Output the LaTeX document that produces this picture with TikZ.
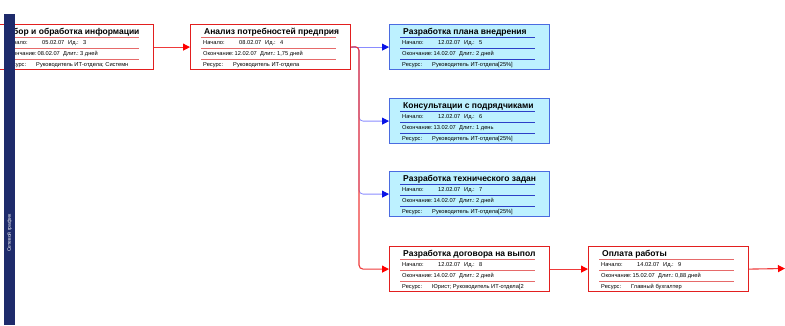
\documentclass[tikz,border=0pt]{standalone}
\usepackage{fontspec}
\setmainfont{Liberation Sans}
\usetikzlibrary{arrows.meta}
\definecolor{netBar}{HTML}{1E2B6B}
\definecolor{taskRed}{HTML}{E21F1F}
\definecolor{sepRed}{HTML}{E66A6A}
\definecolor{taskBlue}{HTML}{4A6BE0}
\definecolor{sepBlue}{HTML}{2C40C8}
\definecolor{taskCyan}{HTML}{BDF1FF}
\definecolor{linkRed}{HTML}{EE3A3A}
\definecolor{tipRed}{HTML}{FF0000}
\definecolor{linkBlue}{HTML}{8A8CFF}
\definecolor{tipBlue}{HTML}{0A14E6}
\tikzset{
  taskbox/.style={rectangle,anchor=north west,minimum width=160pt,minimum height=45pt,
                  inner sep=0pt,line width=1.2pt},
  tasktitle/.style={anchor=base west,inner sep=0pt,font=\fontsize{8.5}{9}\selectfont\bfseries},
  taskrow/.style={anchor=base west,inner sep=0pt,font=\fontsize{5.7}{6}\selectfont},
  tasksep/.style={line width=0.8pt},
  redlink/.style={draw=linkRed,line width=1.1pt,rounded corners=4pt,
                  -{Triangle[length=7pt,width=7pt,color=tipRed]}},
  bluelink/.style={redlink,draw=linkBlue,line width=0.8pt,
                   -{Triangle[length=7pt,width=7pt,color=tipBlue]}},
}

\begin{document}
\begin{tikzpicture}[x=1pt,y=1pt]
  \useasboundingbox (0,0) rectangle (785,-325);

  % task boxes: name/left/top/edge/fill/separators/title/start/id/finish/duration/resource
  \foreach \n/\x/\y/\ec/\fc/\lc/\ttl/\st/\id/\en/\du/\rs in {
    sb/-7/24/taskRed/white/sepRed/{Сбор и обработка информации}/05.02.07/3/08.02.07/{3 дней}/{Руководитель ИТ-отдела; Системн},
    an/190/24/taskRed/white/sepRed/{Анализ потребностей предприя}/08.02.07/4/12.02.07/{1,75 дней}/{Руководитель ИТ-отдела},
    pl/389/24/taskBlue/taskCyan/sepBlue/{Разработка плана внедрения}/12.02.07/5/14.02.07/{2 дней}/{Руководитель ИТ-отдела[25\%]},
    ko/389/98/taskBlue/taskCyan/sepBlue/{Консультации с подрядчиками}/12.02.07/6/13.02.07/{1 день}/{Руководитель ИТ-отдела[25\%]},
    tz/389/171/taskBlue/taskCyan/sepBlue/{Разработка технического задан}/12.02.07/7/14.02.07/{2 дней}/{Руководитель ИТ-отдела[25\%]},
    dg/389/246/taskRed/white/sepRed/{Разработка договора на выпол}/12.02.07/8/14.02.07/{2 дней}/{Юрист; Руководитель ИТ-отдела[2},
    op/588/246/taskRed/white/sepRed/{Оплата работы}/14.02.07/9/15.02.07/{0,88 дней}/{Главный бухгалтер}}{
    \node[taskbox,draw=\ec,fill=\fc] (\n) at (\x,-\y) {};
    \node[tasktitle] (\n-t) at (\x+14,-\y-10.5) {\ttl};
    \draw[tasksep,draw=\lc] (\x+11,-\y-13) -- (\x+146,-\y-13);
    \draw[tasksep,draw=\lc] (\x+11,-\y-24) -- (\x+146,-\y-24);
    \draw[tasksep,draw=\lc] (\x+11,-\y-35) -- (\x+146,-\y-35);
    \node[taskrow] (\n-a) at (\x+13,-\y-20.5) {Начало:};
    \node[taskrow] (\n-b) at (\x+49,-\y-20.5) {\st};
    \node[taskrow] (\n-c) at (\x+75,-\y-20.5) {Ид.:};
    \node[taskrow] (\n-d) at (\x+90,-\y-20.5) {\id};
    \node[taskrow] (\n-e) at (\x+13,-\y-31.5) {Окончание:};
    \node[taskrow] (\n-f) at (\x+44.5,-\y-31.5) {\en};
    \node[taskrow] (\n-g) at (\x+70,-\y-31.5) {Длит.:};
    \node[taskrow] (\n-h) at (\x+87,-\y-31.5) {\du};
    \node[taskrow] (\n-i) at (\x+13,-\y-42) {Ресурс:};
    \node[taskrow] (\n-j) at (\x+43,-\y-42) {\rs};
  }

  \coordinate (split) at (359,-46.5);
  \coordinate (out) at (785,-268.5);

  \draw[redlink] (sb.east) -- (an.west);
  \draw[bluelink] (an.east) -- (pl.west);
  \draw[bluelink] (an.east) -- (split) |- (ko.west);
  \draw[bluelink] (an.east) -- (split) |- (tz.west);
  \draw[redlink] (an.east) -- (split) |- (dg.west);
  \draw[redlink] (dg.east) -- (op.west);
  \draw[redlink] (op.east) -- (out);

  % view bar on the left
  \node[fill=netBar,minimum width=11pt,minimum height=311pt,inner sep=0pt,anchor=north west]
        (bar) at (4,-14) {};
  \node[text=white,rotate=90,inner sep=0pt,font=\fontsize{5}{6}\selectfont] (barlbl) at (9.5,-233)
        {Сетевой график};
\end{tikzpicture}
\end{document}
